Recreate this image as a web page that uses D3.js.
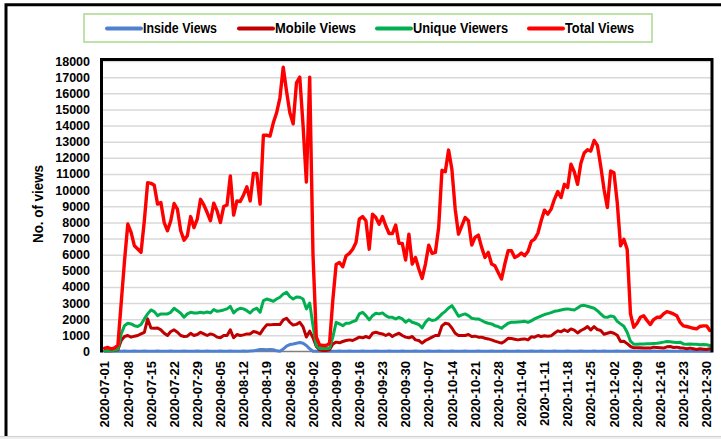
<!DOCTYPE html>
<html><head><meta charset="utf-8">
<script src="https://cdn.jsdelivr.net/npm/d3@7"></script>
<style>html,body{margin:0;padding:0;background:#fff;}svg{display:block;}</style>
</head><body>
<svg id="c" width="721" height="439"></svg>
<script>
const startDate = "2020-07-01", endDate = "2020-12-31";
const seriesNames = ["Inside Views","Mobile Views","Unique Viewers","Total Views"];
const seriesColors = ["#4f81d0","#c00000","#00b050","#ff0000"];
const yTicks = [0,1000,2000,3000,4000,5000,6000,7000,8000,9000,10000,11000,12000,13000,14000,15000,16000,17000,18000];

const totalViews = [200,250,150,220,400,3000,5600,7900,7380,6550,
6350,6140,8100,10460,10420,10300,9130,9230,7990,7480,
8100,9170,8820,7480,6900,7170,8360,7680,8200,9430,
9080,8610,8100,9190,8710,7990,8980,9080,10880,8450,
9330,9290,9700,10200,9330,11040,11040,9130,13400,13400,
13350,14170,14790,15720,17610,16130,14790,14110,16640,17000,
14000,10500,17000,6000,900,400,370,370,500,3200,
5400,5520,5250,5930,6080,6340,6760,8200,8360,8100,
6340,8510,8300,7890,8360,7790,7310,7310,7830,6700,
6700,5670,7270,5420,5830,5110,4530,5420,6590,6080,
6140,7680,11230,11140,12480,11290,8820,7270,7790,8300,
8100,6590,7070,7210,6450,5830,6140,5420,5310,4900,
4490,5420,6240,6240,5830,5930,6100,5930,6200,6820,
6960,7330,8100,8760,8510,8820,9430,9910,9540,10360,
10160,11600,11140,10360,11660,12300,12500,12420,13080,12770,
11490,10050,8920,11190,11080,9230,6550,6960,6340,2330,
1500,1750,2120,2220,1920,1670,1980,2120,2120,2330,
2470,2410,2330,2220,1810,1590,1550,1500,1440,1400,
1550,1590,1590,1300];

const mobileViews = [50,60,50,60,100,680,930,990,890,950,
990,1090,1190,2020,1460,1440,1460,1340,1130,990,
1240,1340,1190,990,930,950,1130,990,1050,1190,
1090,990,1090,1030,890,850,990,990,1340,850,
1050,990,1030,1090,1090,1240,1190,1090,1400,1650,
1650,1670,1670,1670,1960,2060,1810,1640,1680,1810,
1520,900,1260,850,310,100,60,60,100,470,
580,540,620,680,720,680,780,890,850,930,
850,1130,1190,1130,1090,990,1090,930,1050,1130,
990,890,850,930,720,680,520,680,780,890,
990,990,1590,1750,1710,1460,1130,990,990,990,
1050,930,950,890,890,820,780,720,640,580,
520,640,820,800,760,720,760,780,720,910,
890,990,930,970,950,970,1130,1280,1220,1340,
1240,1400,1320,1150,1300,1400,1545,1340,1545,1360,
1300,1070,1130,1190,1130,1010,620,640,490,310,
230,230,230,210,210,210,270,250,230,210,
290,310,250,270,230,210,165,210,165,120,
165,145,120,165];

const uniqueViewers = [50,80,60,80,150,1090,1600,1750,1710,1600,
1545,1670,2020,2330,2575,2470,2220,2330,2330,2330,
2430,2680,2530,2370,2120,2330,2430,2390,2390,2430,
2390,2450,2390,2600,2490,2530,2575,2640,2800,2390,
2575,2680,2640,2530,2390,2600,2680,2430,3150,3250,
3190,3110,3250,3360,3560,3670,3400,3250,3380,3360,
3250,2640,3000,1600,370,180,180,180,200,890,
1810,1710,1600,1750,1750,1850,1920,2330,2430,2220,
1960,2220,2370,2330,2390,2220,2120,2120,2020,2120,
2020,1810,1960,1810,1750,1670,1460,1810,2020,1920,
1960,2120,2330,2490,2700,2840,2530,2180,2270,2330,
2220,2060,2020,2020,1920,1810,1750,1710,1600,1545,
1440,1600,1750,1810,1810,1830,1850,1870,1810,1900,
2020,2120,2200,2290,2350,2410,2490,2530,2575,2620,
2640,2600,2575,2700,2840,2860,2800,2740,2680,2530,
2330,2140,2120,2200,2160,1870,1710,1560,1190,640,
450,450,470,470,480,480,500,510,540,580,
620,600,580,560,580,470,450,470,450,450,
420,430,420,370];

const insideViews = [20,20,20,20,20,20,25,20,20,25,
20,20,25,20,20,20,25,20,20,20,
25,20,20,20,25,20,20,20,25,20,
20,25,20,20,20,25,20,20,25,20,
20,20,25,20,30,40,80,120,120,110,
120,110,40,20,150,330,430,470,515,556,
515,370,165,20,20,20,20,20,20,20,
20,25,20,20,25,20,20,20,25,20,
20,20,25,20,20,20,25,20,20,20,
25,20,20,20,25,20,20,20,25,20,
20,25,20,20,20,25,20,20,20,25,
20,20,20,25,20,20,20,25,20,20,
20,25,20,20,20,25,20,20,20,25,
20,20,25,20,20,20,25,20,20,20,
25,20,20,20,25,20,20,20,25,20,
20,25,20,20,20,25,20,20,20,25,
20,20,25,20,20,20,25,20,20,20,
25,20,20,20,25,20,20,20,25,20,
20,25,20,20];

const seriesValues = [insideViews, mobileViews, uniqueViewers, totalViews];

const parse = d3.timeParse("%Y-%m-%d"), fmt = d3.timeFormat("%Y-%m-%d");
const dates = d3.timeDay.range(parse(startDate), d3.timeDay.offset(parse(endDate), 1)).map(fmt);
const tickDates = dates.filter((d, i) => i % 7 === 0);

const svg = d3.select("#c");
const L = 103, R = 711.5, T = 61, B = 351.5;

// outer frame
svg.append("rect").attr("x",0).attr("y",437).attr("width",721).attr("height",2).attr("fill","#efefef");
svg.append("line").attr("x1",0).attr("x2",721).attr("y1",436.5).attr("y2",436.5).attr("stroke","#cfcfcf").attr("stroke-width",1);
svg.append("path").attr("d","M6,436 L6,4.8 L721,4.8").attr("fill","none").attr("stroke","#000").attr("stroke-width",3);

const x = d3.scaleBand().domain(dates).range([L, R]).padding(0);
const y = d3.scaleLinear().domain([0, 18000]).range([B, T]);
const cx = d => x(d) + x.bandwidth() / 2;

// gridlines
svg.append("g").attr("transform", `translate(${L - 1},0)`)
  .call(d3.axisLeft(y).tickValues(yTicks.slice(1)).tickSize(-(R - L + 1)).tickFormat(""))
  .call(g => g.select(".domain").remove())
  .call(g => g.selectAll("line").attr("stroke", "#d9d9d9").attr("stroke-width", 1.5));

// y labels
svg.append("g").attr("transform", "translate(90,0)")
  .call(d3.axisLeft(y).tickValues(yTicks).tickSize(0).tickPadding(0).tickFormat(d3.format("d")))
  .call(g => g.select(".domain").remove())
  .call(g => g.selectAll("text").attr("font-family","'Liberation Sans', Arial, sans-serif")
     .attr("font-size","12.5px").attr("font-weight","bold").attr("fill","#000"));

// x axis baseline
svg.append("line").attr("x1", L - 1).attr("x2", R).attr("y1", B).attr("y2", B)
  .attr("stroke", "#7f7f7f").attr("stroke-width", 1.5);

// x labels
svg.append("g").attr("transform", `translate(0,${B})`)
  .call(d3.axisBottom(x).tickValues(tickDates).tickSize(0))
  .call(g => g.select(".domain").remove())
  .call(g => g.selectAll("text")
    .attr("transform", "rotate(-90)")
    .attr("text-anchor", "end")
    .attr("x", -9.5).attr("y", 4.7).attr("dy", 0)
    .attr("font-family","'Liberation Sans', Arial, sans-serif")
    .attr("font-size","13px").attr("font-weight","bold").attr("fill","#000"));

// lines
const lineGen = vals => d3.line().x((d, i) => cx(dates[i])).y(d => y(d))(vals);
seriesValues.forEach((vals, k) => {
  svg.append("path").attr("d", lineGen(vals)).attr("fill", "none")
    .attr("stroke", seriesColors[k]).attr("stroke-width", k === 3 ? 3.4 : 3)
    .attr("stroke-linejoin", "round").attr("stroke-linecap", "round");
});

// plot frame (top, left, right)
svg.append("path").attr("d", `M${L - 1.5},${B + 1} L${L - 1.5},${T - 1.5} L${R + 0.5},${T - 1.5} L${R + 0.5},${B + 1}`)
  .attr("fill", "none").attr("stroke", "#000").attr("stroke-width", 3);

// y title
svg.append("text").attr("transform", "translate(42.5,204) rotate(-90)")
  .attr("text-anchor", "middle").attr("font-family","'Liberation Sans', Arial, sans-serif")
  .attr("font-size", "15px").attr("font-weight", "bold").attr("textLength", 78)
  .attr("lengthAdjust", "spacingAndGlyphs").text("No. of views");

// legend
svg.append("rect").attr("x", 84).attr("y", 14).attr("width", 568).attr("height", 28)
  .attr("fill", "#fff").attr("stroke", "#a9d98a").attr("stroke-width", 1.5);
const legX = [107, 239, 377, 529];
const legW = [74, 81, 95, 69];
const lg = svg.append("g");
seriesNames.forEach((n, k) => {
  lg.append("line").attr("x1", legX[k]).attr("x2", legX[k] + 34).attr("y1", 28.5).attr("y2", 28.5)
    .attr("stroke", seriesColors[k]).attr("stroke-width", 4).attr("stroke-linecap", "round");
  lg.append("text").attr("x", legX[k] + 36).attr("y", 33.3)
    .attr("font-family","'Liberation Sans', Arial, sans-serif").attr("font-size", "14px")
    .attr("font-weight", "bold").attr("textLength", legW[k]).attr("lengthAdjust", "spacingAndGlyphs")
    .text(n);
});
</script>
</body></html>
